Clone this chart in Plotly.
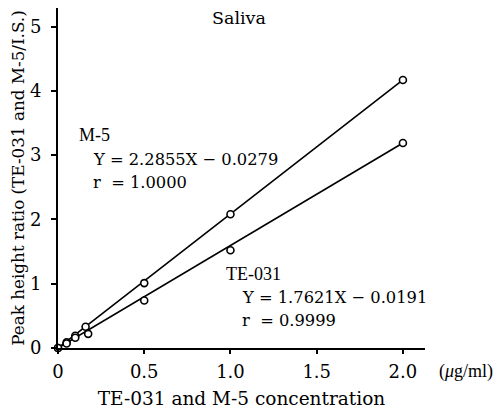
import plotly.graph_objects as go

# Data
conc_m5 = [0.0, 0.05, 0.1, 0.16, 0.5, 1.0, 2.0]
ratio_m5 = [0.0, 0.09, 0.19, 0.33, 1.01, 2.08, 4.17]
conc_te = [0.0, 0.05, 0.1, 0.175, 0.5, 1.0, 2.0]
ratio_te = [0.0, 0.07, 0.16, 0.22, 0.74, 1.52, 3.19]

# regression lines (end points as drawn)
line_x = [0.0, 2.0]
line_m5 = [0.0, 4.17]
line_te = [0.0, 3.19]

x_ticks = [0, 0.5, 1.0, 1.5, 2.0]
x_ticklabels = ["0", "0.5", "1.0", "1.5", "2.0"]
y_ticks = [0, 1, 2, 3, 4, 5]

WIDE = "DejaVu Serif, serif"
NARROW = "Liberation Serif, Times New Roman, serif"

fig = go.Figure()
for lx, ly in [(line_x, line_m5), (line_x, line_te)]:
    fig.add_trace(go.Scatter(x=lx, y=ly, mode="lines",
                             line=dict(color="black", width=1.6), showlegend=False))
for cx, cy in [(conc_m5, ratio_m5), (conc_te, ratio_te)]:
    fig.add_trace(go.Scatter(x=cx, y=cy, mode="markers",
                             marker=dict(symbol="circle", size=7, color="white",
                                         line=dict(color="black", width=1.6)),
                             cliponaxis=False, showlegend=False))

def A(x, y, text, family, size, ref="x"):
    return dict(x=x, y=y, text=text, xref=ref, yref=("y" if ref == "x" else "paper"),
                xanchor="left", yanchor="middle", showarrow=False,
                font=dict(family=family, size=size, color="black"))

annotations = [
    A(0.88, 5.13, "Saliva", WIDE, 17.5),
    A(0.11, 3.31, "M-5", NARROW, 18),
    A(0.19, 2.94, "Y = 2.2855X − 0.0279", WIDE, 16.3),
    A(0.19, 2.58, "r  = 1.0000", WIDE, 16.3),
    A(0.965, 1.15, "TE-031", NARROW, 18),
    A(1.055, 0.78, "Y = 1.7621X − 0.0191", WIDE, 16.3),
    A(1.055, 0.43, "r  = 0.9999", WIDE, 16.3),
    A(1.033, -0.07, "(<i>μ</i>g/ml)", NARROW, 18, ref="paper"),
]

fig.update_layout(
    width=494, height=404,
    margin=dict(l=50, r=77, t=0, b=64),
    paper_bgcolor="white", plot_bgcolor="white",
    font=dict(family=WIDE, size=18, color="black"),
    annotations=annotations,
    xaxis=dict(range=[0, 2.128], tickvals=x_ticks, ticktext=x_ticklabels,
               showgrid=False, zeroline=False, showline=True, linecolor="black",
               linewidth=2, ticks="outside", ticklen=4, tickwidth=1.5,
               tickcolor="black", tickfont=dict(family=WIDE, size=18),
               ticklabelstandoff=2,
               title=dict(text="TE-031 and M-5 concentration",
                          font=dict(family=WIDE, size=18.5), standoff=11)),
    yaxis=dict(range=[0, 5.29], tickvals=y_ticks,
               showgrid=False, zeroline=False, showline=True, linecolor="black",
               linewidth=2, ticks="outside", ticklen=5, tickwidth=1.5,
               tickcolor="black", tickfont=dict(family=WIDE, size=18),
               ticklabelstandoff=6,
               title=dict(text="Peak height ratio (TE-031 and M-5/I.S.)",
                          font=dict(family=WIDE, size=16.8), standoff=9)),
)

fig.write_html("out.html")
